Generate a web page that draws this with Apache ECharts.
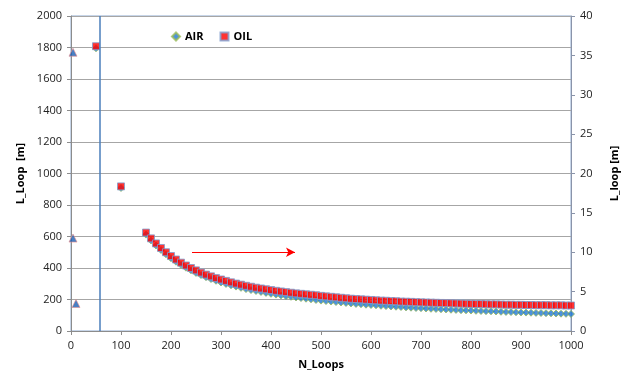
<!DOCTYPE html>
<html>
<head>
<meta charset="utf-8">
<script src="https://cdn.jsdelivr.net/npm/echarts@6/dist/echarts.min.js"></script>
<style>
  html, body { margin: 0; padding: 0; background: #fff; }
  #chart { width: 630px; height: 376px; }
</style>
</head>
<body>
<div id="chart"></div>
<script>
// N_Loops vs L_Loop, AIR / OIL

const xEarly = [50, 100];
const airEarly = [1795, 908];
const oilEarly = [1808, 918];

const xLoops = [150, 160, 170, 180, 190, 200, 210, 220, 230, 240, 250, 260, 270, 280, 290, 300, 310, 320, 330, 340,
    350, 360, 370, 380, 390, 400, 410, 420, 430, 440, 450, 460, 470, 480, 490, 500, 510, 520, 530, 540,
    550, 560, 570, 580, 590, 600, 610, 620, 630, 640, 650, 660, 670, 680, 690, 700, 710, 720, 730, 740,
    750, 760, 770, 780, 790, 800, 810, 820, 830, 840, 850, 860, 870, 880, 890, 900, 910, 920, 930, 940,
    950, 960, 970, 980, 990, 1000];

const airValues = [612, 575, 543, 514, 487, 462, 440, 420, 402, 385, 369, 355, 342, 330, 319, 308, 299, 290, 282, 274,
    266, 260, 254, 248, 242, 236, 231, 226, 221, 217, 213, 209, 205, 201, 197, 193, 190, 187, 184, 181,
    178, 175, 172, 170, 167, 165, 163, 160, 158, 156, 154, 152, 150, 148, 146, 145, 143, 141, 140, 138,
    137, 135, 134, 132, 131, 130, 128, 127, 126, 125, 124, 122, 121, 120, 119, 118, 117, 116, 115, 114,
    113, 112, 111, 110, 109, 108];

const oilValues = [625, 588, 556, 527, 500, 476, 454, 434, 416, 400, 385, 371, 358, 347, 336, 327, 318, 309, 301, 294,
    287, 281, 275, 270, 265, 260, 255, 251, 247, 243, 239, 236, 233, 230, 227, 223, 220, 217, 214, 211,
    208, 205, 203, 201, 199, 197, 195, 193, 192, 190, 189, 187, 186, 185, 183, 182, 181, 180, 179, 178,
    177, 176, 175, 174, 173, 172, 171, 171, 170, 169, 169, 168, 167, 167, 166, 166, 165, 165, 164, 164,
    164, 163, 163, 163, 162, 162];

// points on the secondary axis (no legend entry)
const xSecondary = [4, 4, 10];
const secondaryValues = [35.4, 11.8, 3.5];

const leftTicks = { min: 0, max: 2000, interval: 200 };
const rightTicks = { min: 0, max: 40, interval: 5 };
const xTicks = { min: 0, max: 1000, interval: 100 };

const limitLineX = 58;
const arrowStart = [242, 500];
const arrowEnd = [448, 500];

function pairs(xs, ys) {
    return xs.map((x, i) => [x, ys[i]]);
}

const chart = echarts.init(document.getElementById('chart'));

const plain = v => String(v);
const labelFont = { fontFamily: 'Open Sans', fontSize: 11, color: '#222', formatter: plain };
const nameFont = { fontFamily: 'Open Sans', fontSize: 11, fontWeight: 'bold', color: '#000' };

const option = {
    animation: false,
    grid: {
        left: 71, right: 59, top: 16, bottom: 45,
        show: true, borderColor: '#8eaad0', borderWidth: 1
    },
    legend: {
        top: 26, left: 166,
        itemGap: 16, itemWidth: 8, itemHeight: 8,
        textStyle: { fontFamily: 'Open Sans', fontSize: 11, fontWeight: 'bold', color: '#000' },
        data: ['AIR', 'OIL']
    },
    xAxis: {
        type: 'value',
        min: xTicks.min, max: xTicks.max, interval: xTicks.interval,
        name: 'N_Loops', nameLocation: 'middle', nameGap: 28,
        nameTextStyle: nameFont,
        axisLine: { show: true, lineStyle: { color: '#8c8c8c' } },
        axisTick: { show: true, length: 4, lineStyle: { color: '#8c8c8c' } },
        axisLabel: Object.assign({ margin: 9 }, labelFont),
        splitLine: { show: false }
    },
    yAxis: [{
        type: 'value',
        min: leftTicks.min, max: leftTicks.max, interval: leftTicks.interval,
        name: 'L_Loop  [m]', nameLocation: 'middle', nameGap: 44,
        nameTextStyle: nameFont,
        axisLine: { show: true, lineStyle: { color: '#8c8c8c' } },
        axisTick: { show: true, length: 4, lineStyle: { color: '#8c8c8c' } },
        axisLabel: Object.assign({ margin: 9 }, labelFont),
        splitLine: { show: true, lineStyle: { color: '#a6a6a6', width: 1 } }
    }, {
        type: 'value',
        min: rightTicks.min, max: rightTicks.max, interval: rightTicks.interval,
        name: 'L_loop [m]', nameLocation: 'middle', nameGap: 38,
        nameTextStyle: nameFont,
        axisLine: { show: true, lineStyle: { color: '#8a94aa' } },
        axisTick: { show: true, length: 4, lineStyle: { color: '#8a94aa' } },
        axisLabel: Object.assign({ margin: 9 }, labelFont),
        splitLine: { show: false }
    }],
    series: [{
        name: 'AIR',
        type: 'scatter',
        symbol: 'diamond',
        symbolSize: 7,
        itemStyle: { color: '#1f77d4', borderColor: '#9bbb59', borderWidth: 1 },
        data: pairs(xEarly, airEarly).concat(pairs(xLoops, airValues)),
        z: 2
    }, {
        name: 'OIL',
        type: 'scatter',
        symbol: 'rect',
        symbolSize: 7,
        itemStyle: { color: '#ff0000', borderColor: '#7f9fd0', borderWidth: 1 },
        data: pairs(xEarly, oilEarly).concat(pairs(xLoops, oilValues)),
        z: 3,
        markLine: {
            silent: true,
            symbol: 'none',
            label: { show: false },
            lineStyle: { color: '#4a7ebb', width: 1.5, type: 'solid' },
            data: [{ xAxis: limitLineX }]
        }
    }, {
        name: 'secondary',
        type: 'scatter',
        yAxisIndex: 1,
        symbol: 'triangle',
        symbolSize: 8,
        itemStyle: { color: '#1a5fb4', borderColor: '#e89090', borderWidth: 0.8 },
        data: pairs(xSecondary, secondaryValues),
        z: 2
    }, {
        name: 'arrow',
        type: 'line',
        data: [],
        markLine: {
            silent: true,
            symbol: ['none', 'arrow'],
            symbolSize: [7, 9],
            label: { show: false },
            lineStyle: { color: '#ff0000', width: 1, type: 'solid' },
            data: [[{ coord: arrowStart }, { coord: arrowEnd }]]
        }
    }]
};

chart.setOption(option);
</script>
</body>
</html>
